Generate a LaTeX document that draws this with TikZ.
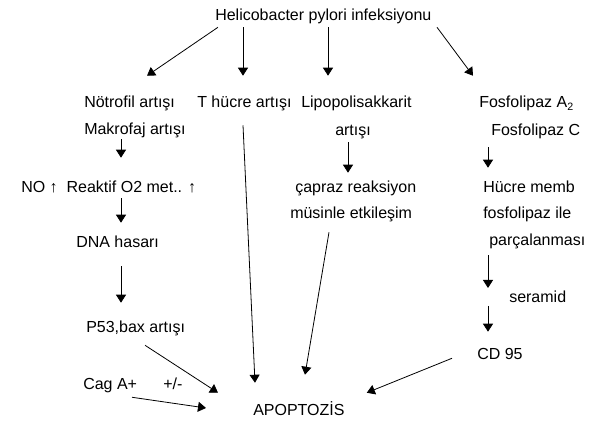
\documentclass[tikz,border=0pt]{standalone}
\usepackage{fontspec}
\setmainfont{Liberation Sans}
\usetikzlibrary{arrows.meta, positioning, calc}

\tikzset{
	lbl/.style={anchor=west, inner sep=0pt, text height=9pt, text depth=0pt, font=\fontsize{12}{14}\selectfont},
	arr/.style={-{Triangle[length=6pt, width=7.5pt]}, line width=.6pt},
	bare/.style={line width=.6pt}
}

\begin{document}
\begin{tikzpicture}[x=.75pt, y=-.75pt]
			
			\useasboundingbox (0,0) rectangle (606,423);
			
			% Top
			\node[lbl] (hp) at (215,15) {Helicobacter pylori infeksiyonu};
			
			% Row 1 and 2
			\node[lbl] (notrofil) at (84,102) {Nötrofil artışı};
			\node[lbl] (thucre) at (197,102) {T hücre artışı};
			\node[lbl] (lps) at (301,102) {Lipopolisakkarit};
			\node[lbl] (fosa) at (479,102) {Fosfolipaz A\textsubscript{2}};
			\node[lbl] (makrofaj) at (84,129) {Makrofaj artışı};
			\node[lbl] (lpsart) at (335,130) {artışı};
			\node[lbl] (fosc) at (491,130) {Fosfolipaz C};
			
			% Left column
			\node[lbl] (reaktif) at (21,187) {NO ↑ \ Reaktif O2 met.. ↑};
			\node[lbl] (dna) at (76,242) {DNA hasarı};
			\node[lbl] (p53) at (86,327) {P53,bax artışı};
			\node[lbl] (cag) at (83,383) {Cag A+};
			\node[lbl] (pm) at (163,383) {+/-};
			
			% Middle column
			\node[lbl] (capraz) at (295,187) {çapraz reaksiyon};
			\node[lbl] (musin) at (290,213) {müsinle etkileşim};
			
			% Right column
			\node[lbl] (hucre) at (483,187) {Hücre memb};
			\node[lbl] (fosile) at (483,213) {fosfolipaz ile};
			\node[lbl] (parca) at (489,240) {parçalanması};
			\node[lbl] (seramid) at (509,297) {seramid};
			\node[lbl] (cd) at (477,354) {CD 95};
			\coordinate (sertop) at ([shift={(-21,-9)}]seramid.west);
			\coordinate (serbot) at ([shift={(-21,9)}]seramid.west);
			
			% Bottom
			\node[lbl] (apop) at (253,410) {APOPTOZİS};
			
			% Arrows from the top
			\draw[arr] ([shift={(3,6)}]hp.south west) -- ([shift={(63,-20)}]notrofil.north west);
			\draw[arr] ([shift={(28,6)}]hp.south west) -- ([shift={(46,-20)}]thucre.north west);
			\draw[arr] ([shift={(113,6)}]hp.south west) -- ([shift={(27,-20)}]lps.north west);
			\draw[arr] ([shift={(222,6)}]hp.south west) -- ([shift={(-6,-20)}]fosa.north west);
			
			% Left chain
			\draw[arr] ([shift={(37,4)}]makrofaj.south west) -- ([shift={(100,-23)}]reaktif.north west);
			\draw[arr] ([shift={(100,5)}]reaktif.south west) -- ([shift={(45,-13)}]dna.north west);
			\draw[arr] ([shift={(45,18)}]dna.south west) -- ([shift={(35,-18)}]p53.north west);
			
			% Middle chain
			\draw[arr] ([shift={(13,6)}]lpsart.south west) -- ([shift={(53,-8)}]capraz.north west);
			
			% Right chain
			\draw[arr] ([shift={(-3,11)}]fosc.south west) -- ([shift={(5,-13)}]hucre.north west);
			\draw[arr] ([shift={(-1,9)}]parca.south west) -- (sertop);
			\draw[arr] (serbot) -- ([shift={(11,-16)}]cd.north west);
			
			% Into apoptosis
			\draw[arr] ([shift={(46,17)}]thucre.south west) -- ([shift={(2,-21)}]apop.north west);
			\draw[arr] ([shift={(39,13)}]musin.south west) -- ([shift={(52,-29)}]apop.north west);
			\draw[arr] ([shift={(59,12)}]p53.south west) -- ([shift={(-35,-11)}]apop.north west);
			\draw[arr] ([shift={(49,8)}]cag.south west) -- ([shift={(-47,-2)}]apop.west);
			\draw[arr] ([shift={(-25,-2)}]cd.south west) -- ([shift={(22,-11)}]apop.north east);
			
		\end{tikzpicture}
\end{document}
